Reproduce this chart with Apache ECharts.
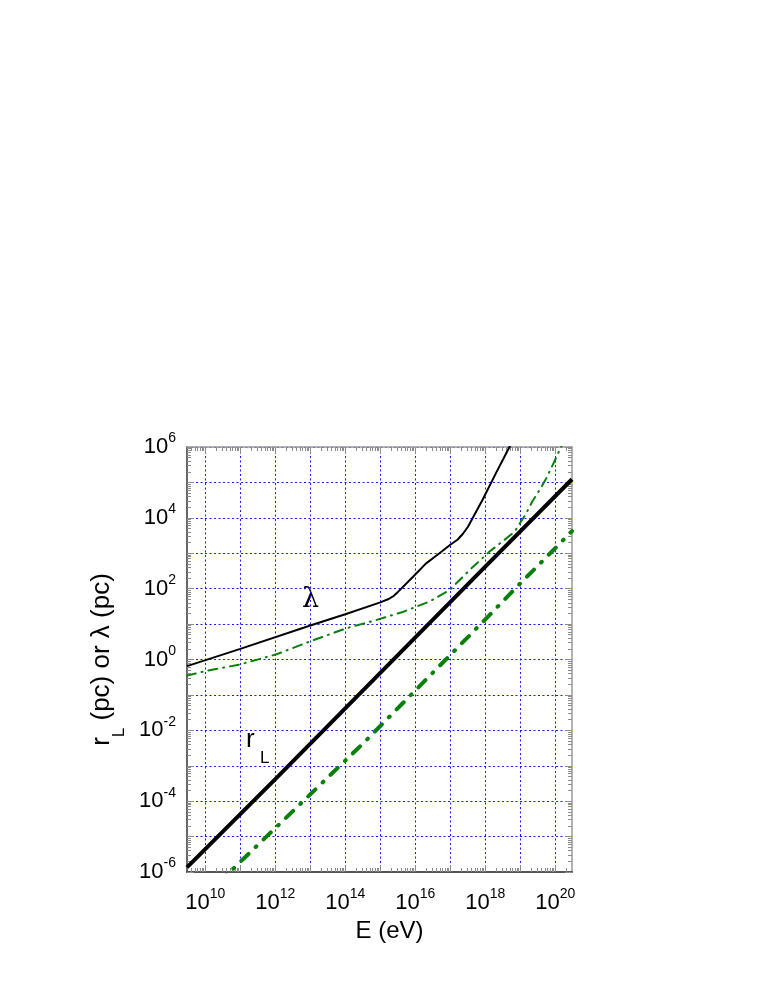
<!DOCTYPE html>
<html>
<head>
<meta charset="utf-8">
<title>r_L and lambda vs E</title>
<script src="https://cdn.jsdelivr.net/npm/echarts@6/dist/echarts.min.js"></script>
<style>
    html, body { margin: 0; padding: 0; background: #fff; }
    #main { width: 766px; height: 987px; }
</style>
</head>
<body>
<div id="main"></div>
<script>
// E (eV) and lengths (pc)
// r_L, thick black
var rlE = [3e9, 1e12, 1e15, 1e18, 3e20];
var rlVal = [1.35e-6, 4.2e-4, 0.42, 420, 1.23e5];

// lambda, thin black
var lamE = [3e9, 1e11, 1e13, 1e14, 1e15, 1.8e15, 2.4e15, 3.2e15, 8.5e15, 2e16, 4.9e16, 1e17, 1.6e17, 2.3e17, 3.2e17, 4.4e17, 8.3e17, 2e18, 4.9e18, 8e18];
var lamVal = [0.65, 2.0, 9.1, 19, 41, 52, 62, 81, 214, 510, 1000, 1740, 2400, 3550, 5600, 1e4, 3.2e4, 1.8e5, 1e6, 2.5e6];

// thin green dash-dot
var gThinE = [3e9, 1e10, 9.5e10, 1.07e12, 1.2e13, 1.07e14, 7.6e14, 4.4e15, 2.5e16, 9.5e16, 3.5e17, 1.3e18, 6.8e18, 1.45e19, 2.2e19, 3.5e19, 5.5e19, 9.3e19, 1.45e20, 2e20];
var gThinVal = [0.35, 0.47, 0.72, 1.4, 3.5, 7.6, 13, 22, 43, 91, 330, 1100, 4000, 1.3e4, 2.9e4, 6.0e4, 1.3e5, 3.8e5, 1e6, 2e6];

// thick green dash-dot
var gThickE = [2.5e10, 5e10, 3.4e14, 8.5e17, 8.3e18, 3.5e19, 1.6e20, 3e20];
var gThickVal = [5e-7, 1e-6, 4.5e-3, 11.5, 117, 490, 2240, 4200];

// axis range and tick labels (exponents)
var xRange = [3e9, 3e20];
var yRange = [1e-6, 1e6];
var xLabelExp = [10, 12, 14, 16, 18, 20];
var yLabelExp = [-6, -4, -2, 0, 2, 4, 6];

var xMin = Math.log10(xRange[0]), xMax = Math.log10(xRange[1]);
var yMin = Math.log10(yRange[0]), yMax = Math.log10(yRange[1]);

// 主刻度 (每个数量级) / 次刻度 (2..9)
function majorTicks(lo, hi) {
    var out = [];
    for (var d = Math.ceil(lo); d <= hi; d++) out.push(d);
    return out;
}
function minorTicks(lo, hi) {
    var out = [];
    for (var d = Math.floor(lo); d < hi; d++) {
        for (var m = 2; m <= 9; m++) {
            var v = d + Math.log10(m);
            if (v > lo && v < hi) out.push(v);
        }
    }
    return out;
}

function toLog(E, V) {
    var out = [];
    for (var i = 0; i < E.length; i++) {
        out.push([Math.log10(E[i]), Math.log10(V[i])]);
    }
    return out;
}

// 10^n 标签, 上标用 padding 抬高
var labelRich = {
    b: { fontSize: 22, fontFamily: 'Liberation Sans', color: '#000', lineHeight: 30 },
    s: { fontSize: 14, fontFamily: 'Liberation Sans', color: '#000', lineHeight: 16, padding: [0, 0, 17, 0] }
};
function powLabel(v) {
    return '{b|10}{s|' + Math.round(v) + '}';
}

var gridLine = { show: true, lineStyle: { color: '#1a1aff', width: 1, type: [2, 2.5] } };
var tickColor = '#8c8c8c';

function makeAxis(dim, pos, ticks, len, opt) {
    opt = opt || {};
    var isX = dim === 'x';
    return {
        type: 'value',
        position: pos,
        min: isX ? xMin : yMin,
        max: isX ? xMax : yMax,
        axisLine: {
            show: !!opt.line, onZero: false,
            lineStyle: { color: opt.lineColor || '#777', width: opt.lineWidth || 1.5 }
        },
        axisTick: { show: true, inside: true, length: len, customValues: ticks, lineStyle: { color: tickColor, width: 1 } },
        splitLine: opt.split ? gridLine : { show: false },
        axisLabel: opt.labels ? {
            show: true,
            customValues: opt.labels,
            margin: isX ? 16 : 11,
            formatter: powLabel,
            rich: labelRich
        } : { show: false },
        name: opt.name || '',
        nameLocation: 'middle',
        nameGap: opt.nameGap || 0,
        nameRotate: opt.nameRotate,
        nameTextStyle: opt.nameStyle || {}
    };
}

var xMajor = majorTicks(xMin, xMax), xMinor = minorTicks(xMin, xMax);
var yMajor = majorTicks(yMin, yMax), yMinor = minorTicks(yMin, yMax);

var myChart = echarts.init(document.getElementById('main'), null, { renderer: 'canvas' });

var option = {
    animation: false,
    backgroundColor: '#fff',
    grid: { left: 187, top: 447, width: 385, height: 425, containLabel: false },
    xAxis: [
        makeAxis('x', 'bottom', xMajor, 7, {
            line: true, lineColor: '#555', lineWidth: 2, split: true, labels: xLabelExp,
            name: 'E (eV)', nameGap: 46,
            nameStyle: { fontSize: 24, fontFamily: 'Liberation Sans', color: '#000', padding: [0, 0, 0, 20] }
        }),
        makeAxis('x', 'bottom', xMinor, 4),
        makeAxis('x', 'top', xMajor, 7, { line: true, lineColor: '#999', lineWidth: 1.5 }),
        makeAxis('x', 'top', xMinor, 4)
    ],
    yAxis: [
        makeAxis('y', 'left', yMajor, 7, {
            line: true, lineColor: '#666', lineWidth: 2, split: true, labels: yLabelExp,
            name: '{a|r}{sub|L}{a| (pc) or λ (pc)}', nameGap: 35, nameRotate: 90,
            nameStyle: {
                rich: {
                    a: { fontSize: 26, fontFamily: 'Liberation Sans', color: '#000', lineHeight: 30, padding: [0, 0, 12, 0] },
                    sub: { fontSize: 17, fontFamily: 'Liberation Sans', color: '#000', lineHeight: 18, padding: [23, 0, 0, 0] }
                }
            }
        }),
        makeAxis('y', 'left', yMinor, 4),
        makeAxis('y', 'right', yMajor, 7, { line: true, lineColor: '#999', lineWidth: 1.5 }),
        makeAxis('y', 'right', yMinor, 4)
    ],
    series: [
        {
            name: 'lambda', type: 'line', showSymbol: false, clip: true,
            data: toLog(lamE, lamVal),
            lineStyle: { color: '#000', width: 2 }
        },
        {
            name: 'green thin', type: 'line', showSymbol: false, clip: true,
            data: toLog(gThinE, gThinVal),
            lineStyle: { color: '#0a7f0a', width: 2, type: [9, 6, 1, 6], cap: 'round' }
        },
        {
            name: 'r_L', type: 'line', showSymbol: false, clip: true,
            data: toLog(rlE, rlVal),
            lineStyle: { color: '#000', width: 4 }
        },
        {
            name: 'green thick', type: 'line', showSymbol: false, clip: true,
            data: toLog(gThickE, gThickVal),
            lineStyle: { color: '#0a7f0a', width: 4, type: [10, 10, 1, 10], cap: 'round' }
        }
    ],
    graphic: [
        {
            type: 'text', left: 302, top: 586,
            style: { text: 'λ', fontSize: 27, fontFamily: 'DejaVu Serif', fill: '#000' }
        },
        {
            type: 'text', left: 246, top: 727,
            style: { text: 'r', fontSize: 26, fontFamily: 'Liberation Sans', fill: '#000' }
        },
        {
            type: 'text', left: 260, top: 750,
            style: { text: 'L', fontSize: 17, fontFamily: 'Liberation Sans', fill: '#000' }
        }
    ]
};
myChart.setOption(option);
</script>
</body>
</html>
